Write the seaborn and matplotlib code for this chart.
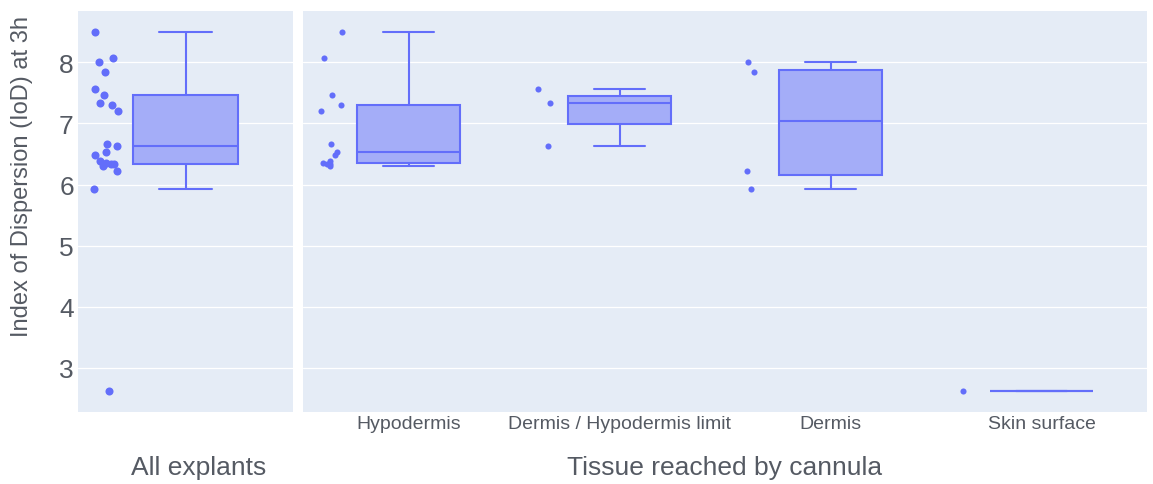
import numpy as np
import pandas as pd
import seaborn as sns
import matplotlib.pyplot as plt

# values
tissues = ["Hypodermis", "Dermis / Hypodermis limit", "Dermis", "Skin surface"]
hypodermis = [8.50, 8.07, 7.46, 7.31, 7.20, 6.67, 6.53, 6.48, 6.39, 6.36, 6.34, 6.33, 6.31]
dermis_hypo_limit = [7.57, 7.34, 6.63]
dermis = [8.00, 7.84, 6.23, 5.92]
skin_surface = [2.63]

all_label = "All explants"
x_title = "Tissue reached by cannula"
y_title = "Index of Dispersion (IoD) at 3h"
y_ticks = [3, 4, 5, 6, 7, 8]

groups = [hypodermis, dermis_hypo_limit, dermis, skin_surface]
df = pd.DataFrame({
    "tissue": np.repeat(tissues, [len(g) for g in groups]),
    "iod": np.concatenate(groups),
})
df["pos"] = df["tissue"].map({t: i for i, t in enumerate(tissues)}).astype(float)

line_col = "#636efa"
fill_col = "#a4adf8"
text_col = "#555a63"

sns.set_theme(style="darkgrid", rc={
    "axes.facecolor": "#E5ECF6",
    "grid.color": "white",
    "grid.linewidth": 0.9,
})
plt.rcParams["font.family"] = ["Liberation Sans", "DejaVu Sans"]

np.random.seed(7)

W, H = 1153, 485
fig = plt.figure(figsize=(W / 100, H / 100), dpi=100)
ax1 = fig.add_axes([78 / W, 1 - 413 / H, 215 / W, 401 / H])
ax2 = fig.add_axes([303 / W, 1 - 413 / H, 844 / W, 401 / H], sharey=ax1)

box_kw = dict(orient="x", native_scale=True, width=0.49, color=fill_col,
              linecolor=line_col, linewidth=1.5, showfliers=False, saturation=1)

# left panel: every explant pooled
all_pos = np.zeros(len(df))
sns.boxplot(x=all_pos, y=df["iod"], ax=ax1, **box_kw)
sns.stripplot(x=all_pos - 0.37, y=df["iod"], ax=ax1, orient="x", native_scale=True,
              jitter=0.06, size=5.8, color=line_col, linewidth=0)

# right panel: split by tissue
sns.boxplot(data=df, x="pos", y="iod", ax=ax2, **box_kw)
sns.stripplot(x=df["pos"] - 0.37, y=df["iod"], ax=ax2, orient="x", native_scale=True,
              jitter=0.06, size=4.4, color=line_col, linewidth=0)

for ax in (ax1, ax2):
    ax.xaxis.grid(False)
    ax.set_ylim(2.28, 8.84)
    ax.set_ylabel("")
    for s in ax.spines.values():
        s.set_visible(False)

ax1.set_xlim(-0.5, 0.5)
ax1.set_xticks([])
ax1.set_yticks(y_ticks)
ax1.tick_params(axis="y", length=0, pad=3, labelsize=19, labelcolor=text_col)
ax1.set_xlabel(all_label, fontsize=19, color=text_col)
ax1.xaxis.set_label_coords(0.56, -55 / 401)
ax1.xaxis.label.set_va("center")
ax1.set_ylabel(y_title, fontsize=17, color=text_col)
ax1.yaxis.set_label_coords(-56 / 215, 0.59)
ax1.yaxis.label.set_va("center")

ax2.set_xlim(-0.5, len(tissues) - 0.5)
ax2.set_xticks(range(len(tissues)), tissues)
ax2.tick_params(axis="x", length=0, pad=2, labelsize=14, labelcolor=text_col)
ax2.tick_params(axis="y", length=0, labelleft=False)
ax2.set_xlabel(x_title, fontsize=19, color=text_col)
ax2.xaxis.set_label_coords(0.5, -55 / 401)
ax2.xaxis.label.set_va("center")

fig.savefig("out.png", dpi=100, facecolor="white")
